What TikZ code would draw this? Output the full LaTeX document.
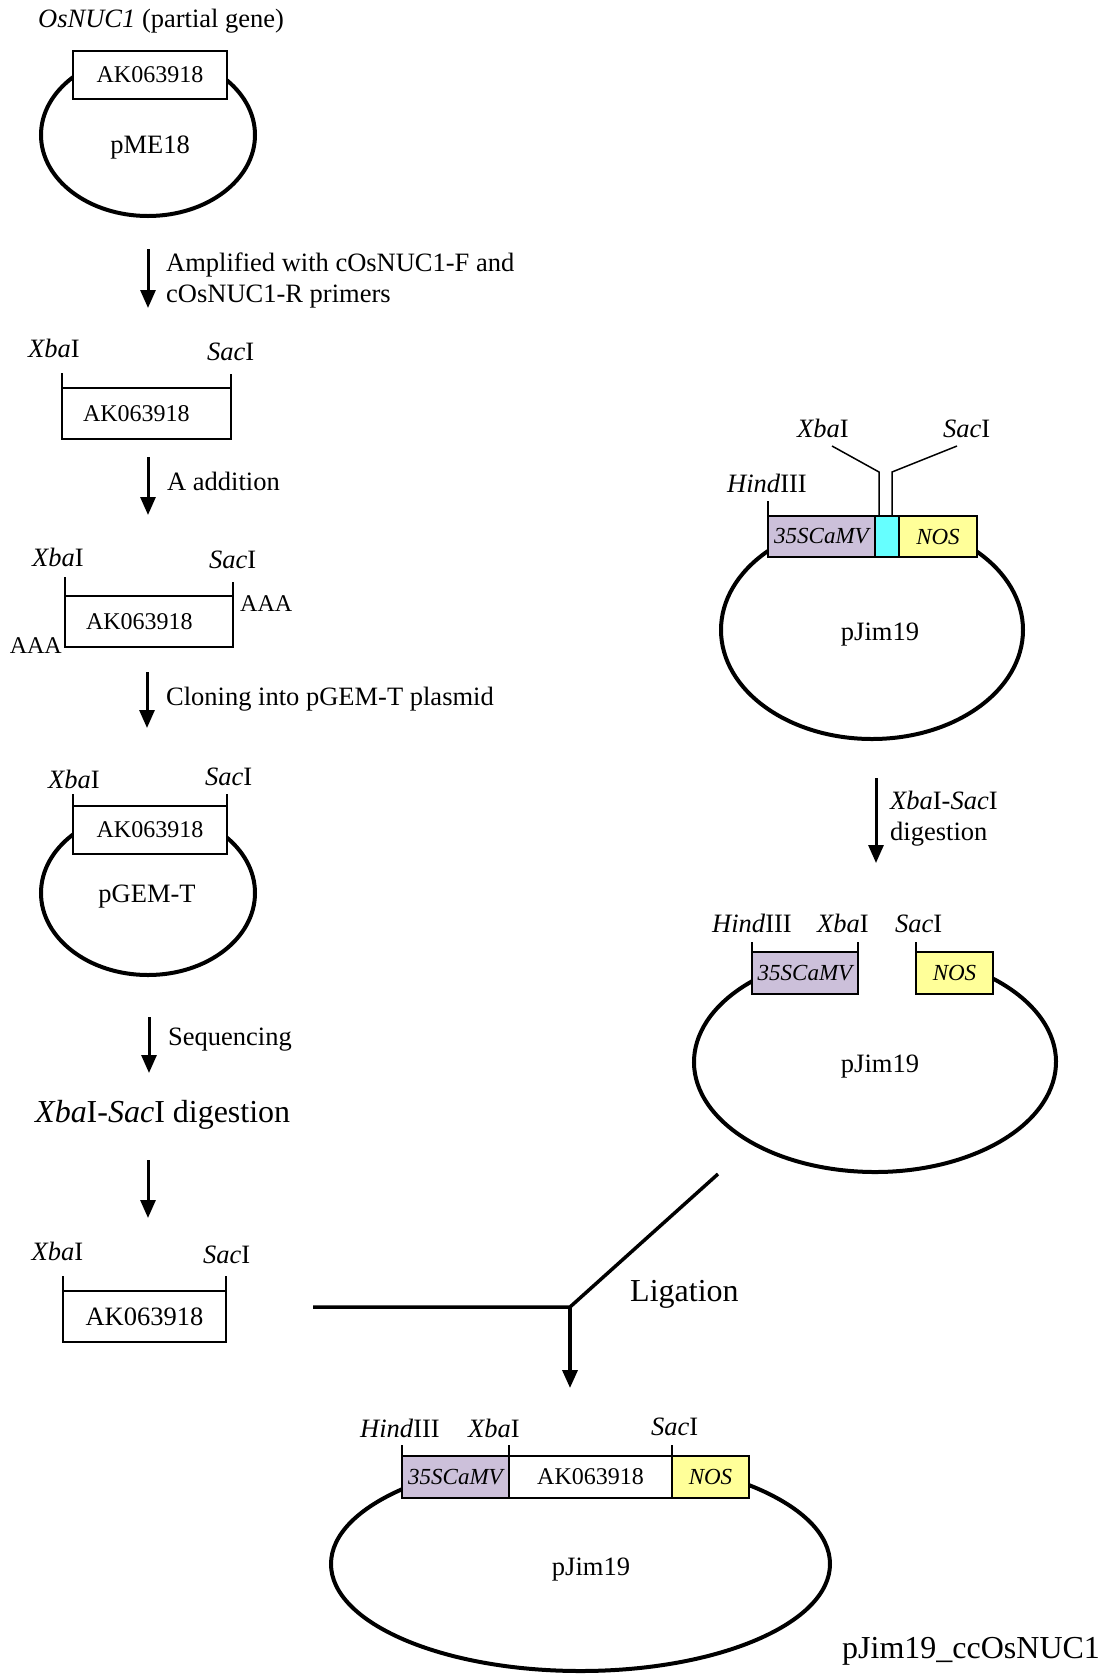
\documentclass[tikz,border=0pt]{standalone}
\usepackage{fontspec}
\setmainfont{Liberation Serif}
\usetikzlibrary{arrows.meta,positioning}
\definecolor{camvfill}{RGB}{204,192,218}
\definecolor{mcsfill}{RGB}{102,255,255}
\definecolor{nosfill}{RGB}{255,255,153}
\newcommand{\xba}{\textit{Xba}I}
\newcommand{\sac}{\textit{Sac}I}
\newcommand{\hind}{\textit{Hind}III}
\newcommand{\fsgene}{\fontsize{24}{28}\selectfont}
\newcommand{\fspart}{\fontsize{23}{27}\selectfont}
\newcommand{\fstext}{\fontsize{26.5}{31}\selectfont}
\newcommand{\fsbig}{\fontsize{32}{38}\selectfont}
\tikzset{
  plasmid/.style = {draw, line width=4pt},
  gene/.style = {draw, rectangle, fill=white, line width=2pt, inner sep=0pt,
    outer sep=0pt, font=\fsgene},
  genel/.style = {gene, align=left, inner xsep=21pt},
  part/.style = {gene, font=\fspart\itshape},
  cutline/.style = {line width=1.5pt},
  site/.style = {inner sep=0pt, anchor=base west, font=\fstext},
  stepnote/.style = {inner sep=0pt, anchor=base west, align=left, font=\fstext},
  pname/.style = {inner sep=0pt, anchor=base, font=\fstext},
  flow/.style = {->, line width=3pt}
}

\begin{document}
\begin{tikzpicture}[x=1pt, y=-1pt, >={Triangle[width=15pt,length=18pt]}]
\useasboundingbox (0,0) rectangle (1107,1674);

% pME18 carrying the partial gene
\node[site] (title) at (38,27) {\textit{OsNUC1} (partial gene)};
\draw[plasmid] (148,135) ellipse [x radius=107, y radius=81];
\node[gene, minimum width=154pt, minimum height=48pt] (ak1) at (150,75) {AK063918};
\node[pname] (pme) at (150,153) {pME18};

\coordinate (a1top) at (148,249);
\coordinate (a1bot) at (148,308);
\draw[flow] (a1top) -- (a1bot);
% base of a two-line note sits on its last line
\node[stepnote] (pcr) at (166,302) {Amplified with cOsNUC1-F and\\cOsNUC1-R primers};

% PCR product
\node[genel, minimum width=169pt, minimum height=51pt, text width=127pt] (ak2) at (146.5,413.5) {AK063918};
\draw[cutline] (ak2.north west) -- ++(0,-15);
\draw[cutline] (ak2.north east) -- ++(0,-14);
\node[site] (xba2) at (28,357) {\xba};
\node[site] (sac2) at (207,360) {\sac};

\coordinate (a2top) at (148,457);
\coordinate (a2bot) at (148,515);
\draw[flow] (a2top) -- (a2bot);
\node[stepnote] (aadd) at (167,490) {A addition};

% A-tailed product
\node[genel, minimum width=168pt, minimum height=51pt, text width=126pt] (ak3) at (149,621.5) {AK063918};
\draw[cutline] (ak3.north west) -- ++(0,-19);
\draw[cutline] (ak3.north east) -- ++(0,-14);
\node[site] (xba3) at (32,566) {\xba};
\node[site] (sac3) at (209,568) {\sac};
\node[site, font=\fsgene] (tailr) at (240,611) {AAA};
\node[site, font=\fsgene, anchor=base east] (taill) at (62,653) {AAA};

\coordinate (a3top) at (147,672);
\coordinate (a3bot) at (147,728);
\draw[flow] (a3top) -- (a3bot);
\node[stepnote] (clone) at (166,705) {Cloning into pGEM-T plasmid};

% pGEM-T clone
\draw[plasmid] (148,893) ellipse [x radius=107, y radius=82];
\node[gene, minimum width=154pt, minimum height=48pt] (ak4) at (150,830) {AK063918};
\draw[cutline] (ak4.north west) -- ++(0,-12);
\draw[cutline] (ak4.north east) -- ++(0,-12);
\node[site] (xba4) at (48,788) {\xba};
\node[site] (sac4) at (205,785) {\sac};
\node[pname] (pgem) at (147,902) {pGEM-T};

\coordinate (a4top) at (149,1017);
\coordinate (a4bot) at (149,1073);
\draw[flow] (a4top) -- (a4bot);
\node[stepnote] (seq) at (168,1045) {Sequencing};
\node[stepnote, font=\fsbig] (dig1) at (35,1122) {\xba-\sac{} digestion};

\coordinate (a5top) at (148,1160);
\coordinate (a5bot) at (148,1218);
\draw[flow] (a5top) -- (a5bot);

% insert
\node[gene, font=\fstext, minimum width=163pt, minimum height=51pt] (ak5) at (144.5,1316.5) {AK063918};
\draw[cutline] (ak5.north west) -- ++(0,-15);
\draw[cutline] (ak5.north east) -- ++(0,-15);
\node[site] (xba5) at (31.5,1260) {\xba};
\node[site] (sac5) at (203,1263) {\sac};

% pJim19 vector
\draw[plasmid] (872,630) ellipse [x radius=151, y radius=109];
\node[part, fill=camvfill, minimum width=107pt, minimum height=41pt] (camv1) at (821.5,536.5) {35SCaMV};
\node[part, fill=mcsfill, minimum width=24pt, minimum height=41pt, right=0pt of camv1] (mcs1) {};
\node[part, fill=nosfill, minimum width=78pt, minimum height=41pt, right=0pt of mcs1] (nos1) {NOS};
\draw[cutline] (camv1.north west) -- ++(0,-15);
\draw[cutline] ([xshift=4pt]mcs1.north west) -- ++(0,-44) -- ++(-47,-26);
\draw[cutline] ([xshift=-7pt]mcs1.north east) -- ++(0,-44) -- ++(65,-26);
\node[site] (hind1) at (727,492) {\hind};
\node[site] (xba6) at (797,437) {\xba};
\node[site] (sac6) at (943,437) {\sac};
\node[pname] (pjim1) at (880,640) {pJim19};

\coordinate (a6top) at (876,778);
\coordinate (a6bot) at (876,863);
\draw[flow] (a6top) -- (a6bot);
\node[stepnote] (dig2) at (890,840) {\xba-\sac\\digestion};

% cut vector
\draw[plasmid] (875,1062) ++(238.3:181 and 110) arc[start angle=238.3, end angle=-62, x radius=181, y radius=110];
\node[part, fill=camvfill, minimum width=106pt, minimum height=42pt] (camv2) at (805,973) {35SCaMV};
\node[part, fill=nosfill, minimum width=77pt, minimum height=42pt] (nos2) at (954.5,973) {NOS};
\draw[cutline] (camv2.north west) -- ++(0,-10);
\draw[cutline] (camv2.north east) -- ++(0,-10);
\draw[cutline] (nos2.north west) -- ++(0,-10);
\node[site] (hind2) at (712,932) {\hind};
\node[site] (xba7) at (817,932) {\xba};
\node[site] (sac7) at (895,932) {\sac};
\node[pname] (pjim2) at (880,1072) {pJim19};

% ligation
\coordinate (ligin) at (313,1307);
\coordinate (ligvec) at (718,1174);
\coordinate (lig) at (570,1307);
\coordinate (ligout) at (570,1388);
\draw[line width=3.5pt] (ligin) -- (lig) -- (ligvec);
\draw[flow, line width=3.5pt] (lig) -- (ligout);
\node[stepnote, font=\fsbig] (ligtext) at (630,1301) {Ligation};

% final construct
\draw[plasmid] (580.5,1564) ellipse [x radius=249.5, y radius=107];
\node[part, fill=camvfill, minimum width=107pt, minimum height=42pt] (camv3) at (455.5,1477) {35SCaMV};
\node[gene, minimum width=163pt, minimum height=42pt, right=0pt of camv3] (ak6) {AK063918};
\node[part, fill=nosfill, minimum width=77pt, minimum height=42pt, right=0pt of ak6] (nos3) {NOS};
\draw[cutline] (camv3.north west) -- ++(0,-11);
\draw[cutline] (ak6.north west) -- ++(0,-11);
\draw[cutline] (nos3.north west) -- ++(0,-11);
\node[site] (hind3) at (360,1437) {\hind};
\node[site] (xba8) at (468,1437) {\xba};
\node[site] (sac8) at (651,1435) {\sac};
\node[pname] (pjim3) at (591,1575) {pJim19};
\node[stepnote, font=\fsbig] (construct) at (842,1658) {pJim19\_ccOsNUC1};
\end{tikzpicture}
\end{document}
